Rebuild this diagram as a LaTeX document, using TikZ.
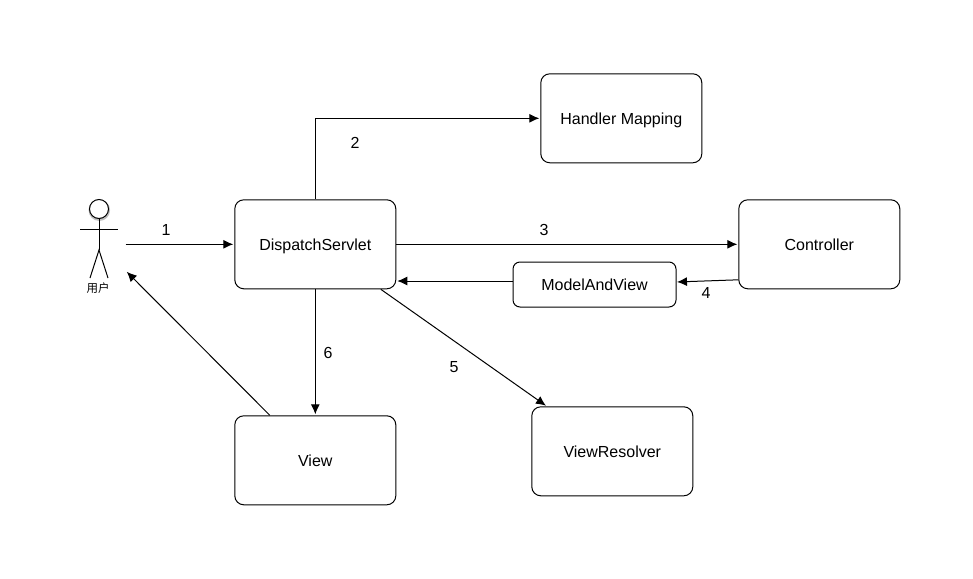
\documentclass[tikz,border=0pt]{standalone}
\usepackage{fontspec}
\setmainfont{Liberation Sans}
\newfontfamily\cjk{Noto Sans CJK SC}
\usetikzlibrary{arrows.meta,calc}
\tikzset{
  box/.style={draw=black,line width=1pt,rounded corners=9pt,fill=white,inner sep=0pt,text height=13.6pt,text depth=1.4pt,font=\fontsize{16}{18}\selectfont},
  conn/.style={draw=black,line width=1pt,-{Latex[length=10pt,width=9pt]},shorten >=1pt},
  lbl/.style={inner sep=0pt,font=\fontsize{16}{18}\selectfont},
  limb/.style={draw=black,line width=1pt}
}
\begin{document}
\begin{tikzpicture}[x=1pt,y=-1pt]
\useasboundingbox[fill=white] (0,0) rectangle (973,578);
\node[box,minimum width=161pt,minimum height=89pt] (hm) at (621.3,118.3) {Handler Mapping};
\node[box,minimum width=161pt,minimum height=89pt] (ds) at (315.3,244.3) {DispatchServlet};
\node[box,minimum width=161pt,minimum height=89pt] (ct) at (819.3,244.3) {Controller};
\node[box,minimum width=163pt,minimum height=45pt,rounded corners=7pt] (mv) at (594.5,284.5) {ModelAndView};
\node[box,minimum width=161pt,minimum height=89pt] (vw) at (315.3,460.3) {View};
\node[box,minimum width=161pt,minimum height=89pt] (vr) at (612.3,451.3) {ViewResolver};
% actor
\node[circle,minimum size=21.5pt,inner sep=0pt,fill=black!25] (shade) at (99.3,210.2) {};
\node[draw=black,line width=1pt,circle,minimum size=19pt,inner sep=0pt,fill=white] (head) at (99,209) {};
\coordinate (hip) at (99,250);
\coordinate (armL) at (80,229.3);
\coordinate (armR) at (118,229.3);
\coordinate (footL) at (90,278);
\coordinate (footR) at (108,278);
\draw[limb] (head.south) -- (hip);
\draw[limb] (armL) -- (armR);
\draw[limb] (footL) -- (hip) -- (footR);
\node[inner sep=0pt,font=\cjk\fontsize{11.5}{12}\selectfont] (user) at (98,288.5) {用户};
\coordinate (a1s) at (125.5,244.3);
\coordinate (a7e) at (126,271);
\coordinate (corner) at (ds.north |- hm.west);
% connectors
\draw[conn] (a1s) -- (ds.west);
\draw[conn] (ds.north) -- (corner) -- (hm.west);
\draw[conn] (ds.east) -- (ct.west);
\draw[conn] ($(ct.west)+(0,35.5)$) -- ($(mv.east)+(-0.5,-2.5)$);
\draw[conn] (mv.west |- 0,281) -- (ds.east |- 0,281);
\draw[conn] (ds.south) -- (vw.north);
\draw[conn] ($(ds.south)+(65.5,0)$) -- ($(vr.north)+(-65.5,0)$);
\draw[conn] ($(vw.north)+(-45.5,0)$) -- (a7e);
% labels
\node[lbl] (l1) at (166,229.5) {1};
\node[lbl] (l2) at (355,142.5) {2};
\node[lbl] (l3) at (544,229.5) {3};
\node[lbl] (l4) at (706,293) {4};
\node[lbl] (l5) at (454,367.5) {5};
\node[lbl] (l6) at (328,352.5) {6};
\end{tikzpicture}
\end{document}
